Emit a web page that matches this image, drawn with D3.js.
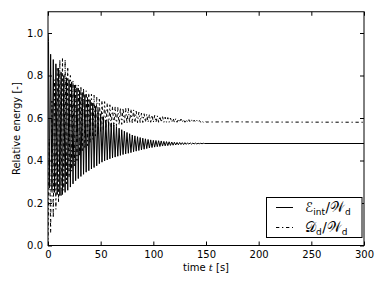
<!DOCTYPE html>
<html>
<head>
<meta charset="utf-8">
<script src="https://cdn.jsdelivr.net/npm/d3@7"></script>
<style>
  html,body{margin:0;padding:0;background:#fff;}
  svg text{font-family:"DejaVu Sans",sans-serif;fill:#000;}
</style>
</head>
<body>
<div id="chart"></div>
<script>
// tick labels
const xTicks = [0, 50, 100, 150, 200, 250, 300];
const yTicks = [0.0, 0.2, 0.4, 0.6, 0.8, 1.0];

// E_int / W_d : extrema [t, value]
const internal = [
  [0,1.00],[0.5,0.96],[1.25,0.27],[2.5,0.90],[3.75,0.26],[5,0.875],[6.25,0.25],[7.5,0.855],[8.75,0.24],
  [10,0.835],[11.25,0.235],[12.5,0.815],[13.75,0.24],[15,0.80],[16.25,0.25],[17.5,0.79],[18.75,0.26],
  [20,0.78],[21.25,0.275],[22.5,0.77],[23.75,0.29],[25,0.755],[26.25,0.305],[27.5,0.742],[28.75,0.315],
  [30,0.73],[31.25,0.325],[32.5,0.72],[33.75,0.335],[35,0.71],[36.25,0.345],[37.5,0.697],[38.75,0.352],
  [40,0.685],[41.25,0.36],[42.5,0.67],[43.75,0.367],[45,0.655],[46.25,0.375],[47.5,0.637],[48.75,0.385],
  [50,0.62],[51.25,0.392],[52.5,0.605],[53.75,0.398],[55,0.59],[56.25,0.403],[57.5,0.582],[58.75,0.408],
  [60,0.575],[61.25,0.412],[62.5,0.567],[63.75,0.416],[65,0.56],[66.25,0.42],[67.5,0.552],[68.75,0.424],
  [70,0.545],[71.25,0.428],[72.5,0.538],[73.75,0.431],[75,0.532],[76.25,0.434],[77.5,0.526],[78.75,0.437],
  [80,0.52],[81.25,0.441],[82.5,0.516],[83.75,0.444],[85,0.512],[86.25,0.447],[87.5,0.508],[88.75,0.45],
  [90,0.505],[91.25,0.453],[92.5,0.502],[93.75,0.456],[95,0.499],[96.25,0.459],[97.5,0.497],[98.75,0.461],
  [100,0.495],[101.25,0.463],[102.5,0.494],[103.75,0.465],[105,0.493],[106.25,0.466],[107.5,0.492],[108.75,0.468],
  [110,0.49],[111.25,0.469],[112.5,0.489],[113.75,0.47],[115,0.488],[116.25,0.471],[117.5,0.487],[118.75,0.472],
  [120,0.486],[121.25,0.473],[122.5,0.485],[123.75,0.474],[125,0.485],[126.25,0.475],[127.5,0.484],[128.75,0.475],
  [130,0.484],[131.25,0.476],[132.5,0.483],[133.75,0.477],[135,0.483],[136.25,0.477],[137.5,0.482],[138.75,0.478],
  [140,0.482],[141.25,0.478],[142.5,0.481],[143.75,0.479],[145,0.481],[146.25,0.479],[147.5,0.481],[148.75,0.48],
  [150,0.48],[300,0.48]
];

// D_d / W_d : extrema [t, value]
const dissipated = [
  [0,0.0],[1.25,0.5],[2.5,0.06],[3.75,0.68],[5,0.13],[6.25,0.78],[7.5,0.17],[8.75,0.84],
  [10,0.2],[11.25,0.875],[12.5,0.23],[13.75,0.885],[15,0.26],[16.25,0.875],[17.5,0.29],[18.75,0.84],
  [20,0.32],[21.25,0.80],[22.5,0.35],[23.75,0.775],[25,0.375],[26.25,0.762],[27.5,0.40],[28.75,0.755],
  [30,0.42],[31.25,0.75],[32.5,0.44],[33.75,0.74],[35,0.455],[36.25,0.728],[37.5,0.47],[38.75,0.717],
  [40,0.485],[41.25,0.712],[42.5,0.5],[43.75,0.707],[45,0.515],[46.25,0.698],[47.5,0.527],[48.75,0.688],
  [50,0.537],[51.25,0.682],[52.5,0.545],[53.75,0.677],[55,0.55],[56.25,0.67],[57.5,0.555],[58.75,0.662],
  [60,0.558],[61.25,0.655],[62.5,0.561],[63.75,0.652],[65,0.564],[66.25,0.65],[67.5,0.567],[68.75,0.648],
  [70,0.57],[71.25,0.647],[72.5,0.572],[73.75,0.646],[75,0.574],[76.25,0.645],[77.5,0.576],[78.75,0.642],
  [80,0.577],[81.25,0.638],[82.5,0.578],[83.75,0.632],[85,0.578],[86.25,0.627],[87.5,0.579],[88.75,0.623],
  [90,0.579],[91.25,0.62],[92.5,0.58],[93.75,0.618],[95,0.58],[96.25,0.616],[97.5,0.58],[98.75,0.614],
  [100,0.58],[101.25,0.612],[102.5,0.58],[103.75,0.61],[105,0.58],[106.25,0.608],[107.5,0.58],[108.75,0.606],
  [110,0.58],[111.25,0.604],[112.5,0.58],[113.75,0.602],[115,0.58],[116.25,0.6],[117.5,0.58],[118.75,0.598],
  [120,0.58],[121.25,0.597],[122.5,0.58],[123.75,0.596],[125,0.58],[126.25,0.595],[127.5,0.58],[128.75,0.594],
  [130,0.58],[131.25,0.593],[132.5,0.58],[133.75,0.592],[135,0.58],[136.25,0.591],[137.5,0.58],[138.75,0.59],
  [140,0.58],[141.25,0.589],[142.5,0.58],[143.75,0.588],[145,0.58],[146.25,0.587],[147.5,0.58],[148.75,0.586],
  [150,0.581],[175,0.582],[200,0.581],[300,0.58]
];

const W = 386, H = 290,
      m = {top:11.75, right:22, bottom:44.5, left:48},
      iw = W - m.left - m.right,
      ih = H - m.top - m.bottom;

const svg = d3.select('#chart').append('svg')
  .attr('width', W).attr('height', H);

const x = d3.scaleLinear().domain([0, 300]).range([m.left, m.left + iw]);
const y = d3.scaleLinear().domain([0, 1.1]).range([m.top + ih, m.top]);

svg.append('clipPath').attr('id','clip')
  .append('rect').attr('x', m.left).attr('y', m.top).attr('width', iw).attr('height', ih);

const line = d3.line().x(d=>x(d[0])).y(d=>y(d[1]));

svg.append('path').datum(dissipated)
  .attr('clip-path','url(#clip)')
  .attr('fill','none').attr('stroke','#000').attr('stroke-width',1)
  .attr('stroke-dasharray','3.3,2.7,1.3,2.7')
  .attr('d', line);

svg.append('path').datum(internal)
  .attr('clip-path','url(#clip)')
  .attr('fill','none').attr('stroke','#000').attr('stroke-width',1)
  .attr('d', line);

// axes, ticks pointing inwards on all four sides
const fmtY = d3.format('.1f');
svg.append('g').attr('transform',`translate(0,${m.top + ih})`)
  .call(d3.axisBottom(x).tickValues(xTicks).tickSizeInner(-4).tickSizeOuter(0).tickPadding(5))
  .call(g=>g.select('.domain').remove());
svg.append('g').attr('transform',`translate(0,${m.top})`)
  .call(d3.axisTop(x).tickValues(xTicks).tickSizeInner(-4).tickSizeOuter(0).tickFormat(''))
  .call(g=>g.select('.domain').remove());
svg.append('g').attr('transform',`translate(${m.left},0)`)
  .call(d3.axisLeft(y).tickValues(yTicks).tickFormat(fmtY).tickSizeInner(-4).tickSizeOuter(0).tickPadding(5))
  .call(g=>g.select('.domain').remove());
svg.append('g').attr('transform',`translate(${m.left + iw},0)`)
  .call(d3.axisRight(y).tickValues(yTicks).tickSizeInner(-4).tickSizeOuter(0).tickFormat(''))
  .call(g=>g.select('.domain').remove());

svg.selectAll('.tick line').attr('stroke','#000');
svg.selectAll('.tick text').attr('font-size','10px').attr('font-family','DejaVu Sans').attr('fill','#000');

// frame
svg.append('rect')
  .attr('x', m.left).attr('y', m.top).attr('width', iw).attr('height', ih)
  .attr('fill','none').attr('stroke','#000').attr('stroke-width',1);

// axis labels
const xl = svg.append('text')
  .attr('x', m.left + iw/2).attr('y', 271)
  .attr('text-anchor','middle').attr('font-size','10px');
xl.append('tspan').text('time ');
xl.append('tspan').attr('font-family','DejaVu Serif').attr('font-style','italic').text('t');
xl.append('tspan').text(' [s]');

svg.append('text')
  .attr('transform',`translate(20,${m.top + ih/2}) rotate(-90)`)
  .attr('text-anchor','middle').attr('font-size','10px')
  .text('Relative energy [-]');

// legend
const lg = svg.append('g');
lg.append('rect')
  .attr('x', 266.5).attr('y', 197.5).attr('width', 95.5).attr('height', 40)
  .attr('fill','#fff').attr('stroke','#000').attr('stroke-width',1);

const items = [
  {main:'ℰ', sub:'int', den:'𝒲', dsub:'d', dash:null},
  {main:'𝒟', sub:'d',   den:'𝒲', dsub:'d', dash:'3.3,2.7,1.3,2.7'}
];
items.forEach((it,i)=>{
  const yy = 207.5 + i*20;
  lg.append('line')
    .attr('x1',276).attr('x2',293).attr('y1',yy).attr('y2',yy)
    .attr('stroke','#000').attr('stroke-width',1)
    .attr('stroke-dasharray', it.dash);
  const t = lg.append('text')
    .attr('x', 305).attr('y', yy + 4.5)
    .attr('font-size','13.5px').attr('font-family','"Liberation Serif",serif');
  t.append('tspan').attr('font-family','"DejaVu Sans"').text(it.main);
  t.append('tspan').attr('font-size','9px').attr('dy',2.5).text(it.sub);
  t.append('tspan').attr('dy',-2.5).attr('dx',0.5).text('/');
  t.append('tspan').attr('font-family','"DejaVu Sans"').text(it.den);
  t.append('tspan').attr('font-size','9px').attr('dy',2.5).text(it.dsub);
});
</script>
</body>
</html>
